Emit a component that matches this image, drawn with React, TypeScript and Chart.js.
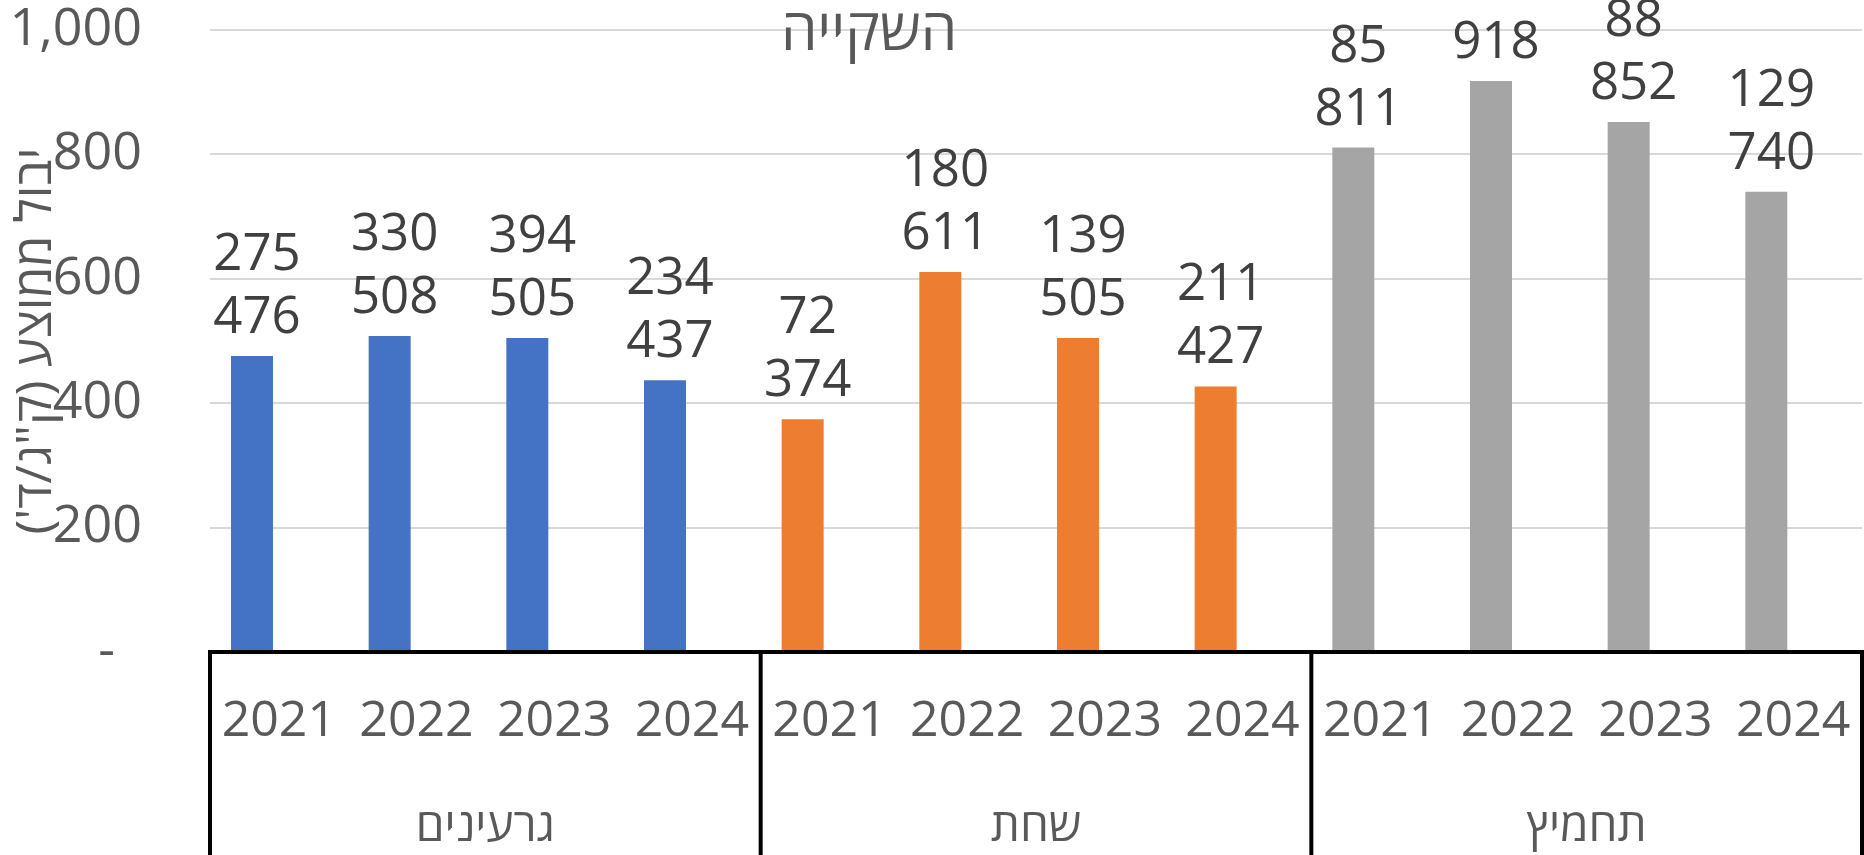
import React, { useEffect, useRef } from "react";
import { Chart, registerables } from "chart.js";

Chart.register(...registerables);

// ---- data ----
const years = ["2021", "2022", "2023", "2024"];
const groups = ["גרעינים", "שחת", "תחמיץ"];
const yieldValues = [476, 508, 505, 437, 374, 611, 505, 427, 811, 918, 852, 740];
const upperLabels: (number | null)[] = [275, 330, 394, 234, 72, 180, 139, 211, 85, null, 88, 129];
const groupColors = ["#4472C4", "#ED7D31", "#A5A5A5"];
const yMin = 0;
const yMax = 1000;
const yStep = 200;
const chartTitle = "השקייה";
const yAxisTitle = "יבול ממוצע (ק\"ג/ד')\u200F";

const FONT = "'Open Sans', 'Noto Sans', 'DejaVu Sans', sans-serif";

const categoryLabels = groups.flatMap(() => years);
const barColors = groups.flatMap((_, g) => years.map(() => groupColors[g]));
const barPoints = yieldValues.map((v, i) => ({ x: i, y: v }));

const fmt = (v: number) => v.toLocaleString("en-US");

const zeroPadding = (scale: any) => {
  scale.paddingTop = 0;
  scale.paddingBottom = 0;
  scale.paddingLeft = 0;
  scale.paddingRight = 0;
};

const overlayPlugin = {
  id: "overlay",
  afterDatasetsDraw(chart: any) {
    const ctx = chart.ctx as CanvasRenderingContext2D;
    const { left, right, bottom } = chart.chartArea;
    const meta = chart.getDatasetMeta(0);
    ctx.save();

    // data labels (two lines)
    ctx.fillStyle = "#404040";
    ctx.font = `51px ${FONT}`;
    ctx.textAlign = "center";
    ctx.textBaseline = "alphabetic";
    meta.data.forEach((bar: any, i: number) => {
      const x = bar.x + 5;
      ctx.fillText(fmt(yieldValues[i]), x, bar.y - 23);
      const u = upperLabels[i];
      if (u !== null && u !== undefined) ctx.fillText(fmt(u), x, bar.y - 86);
    });

    // horizontal axis line
    ctx.strokeStyle = "#000000";
    ctx.lineWidth = 4;
    ctx.beginPath();
    ctx.moveTo(left - 2, bottom);
    ctx.lineTo(chart.width, bottom);
    ctx.stroke();

    // group separators
    const xs = chart.scales.x2;
    const bounds: number[] = [left];
    for (let g = 1; g < groups.length; g++) {
      const idx = g * years.length;
      bounds.push((xs.getPixelForValue(idx - 1) + xs.getPixelForValue(idx)) / 2);
    }
    bounds.push(right);
    bounds.forEach((bx) => {
      ctx.beginPath();
      ctx.moveTo(bx, bottom - 2);
      ctx.lineTo(bx, chart.height);
      ctx.stroke();
    });

    // group labels
    ctx.fillStyle = "#595959";
    ctx.font = `46px ${FONT}`;
    ctx.textAlign = "center";
    ctx.textBaseline = "middle";
    groups.forEach((name, g) => {
      const cx = (bounds[g] + bounds[g + 1]) / 2;
      ctx.fillText(name, cx, 828);
    });

    // chart title (chart is cropped, title sits left of the plot center)
    ctx.font = `58px ${FONT}`;
    ctx.fillStyle = "#595959";
    ctx.fillText(chartTitle, 869, 33);

    ctx.restore();
  },
};

export default function App() {
  const canvasRef = useRef<HTMLCanvasElement | null>(null);

  useEffect(() => {
    if (!canvasRef.current) return;
    const chart = new Chart(canvasRef.current, {
      type: "bar",
      data: {
        datasets: [
          {
            data: barPoints as any,
            backgroundColor: barColors,
            borderWidth: 0,
            barPercentage: 0.305,
            categoryPercentage: 1,
          },
        ],
      },
      options: {
        animation: false,
        responsive: false,
        devicePixelRatio: 1,
        layout: { padding: { top: 30, right: 2, left: 0, bottom: 0 } },
        plugins: {
          legend: { display: false },
          tooltip: { enabled: false },
          title: { display: false },
        },
        scales: {
          x: {
            type: "linear",
            display: false,
            offset: false,
            min: -0.305,
            max: 11.695,
          },
          x2: {
            type: "category",
            position: "bottom",
            labels: categoryLabels,
            offset: true,
            grid: { display: false, drawTicks: false },
            border: { display: false },
            ticks: {
              color: "#595959",
              font: { family: FONT, size: 50, lineHeight: 1 },
              padding: 45,
              maxRotation: 0,
              autoSkip: false,
            },
            afterFit: (scale: any) => {
              scale.height = 203;
              zeroPadding(scale);
            },
          },
          y: {
            type: "linear",
            min: yMin,
            max: yMax,
            grid: { color: "#d9d9d9", lineWidth: 2, drawTicks: false },
            border: { display: false },
            ticks: {
              stepSize: yStep,
              color: "#595959",
              font: { family: FONT, size: 52, lineHeight: 1 },
              padding: 68,
              callback: (v: any) => (Number(v) === 0 ? "-  " : fmt(Number(v))),
            },
            title: {
              display: true,
              text: yAxisTitle,
              color: "#595959",
              font: { family: FONT, size: 50, lineHeight: 1 },
              padding: { top: 12, bottom: 0 },
            },
            afterFit: (scale: any) => {
              scale.width = 210;
              zeroPadding(scale);
            },
          },
        },
      },
      plugins: [overlayPlugin],
    });
    return () => chart.destroy();
  }, []);

  return (
    <div style={{ position: "fixed", left: 0, top: 0, width: 1864, height: 855, background: "#ffffff" }}>
      <canvas ref={canvasRef} width={1864} height={855} />
    </div>
  );
}
